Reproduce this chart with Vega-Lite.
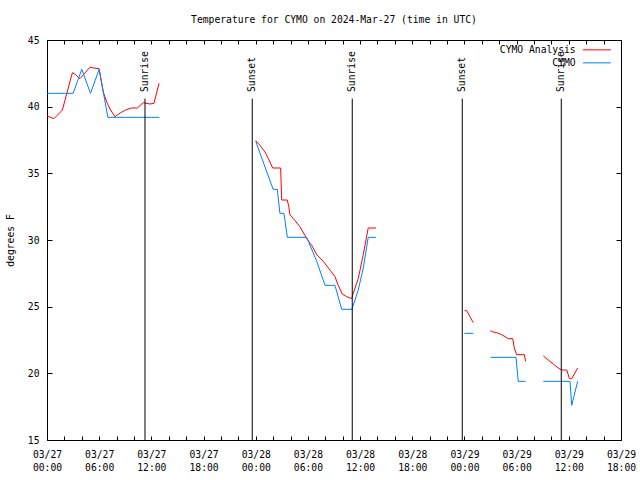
{
  "$schema": "https://vega.github.io/schema/vega-lite/v6.json",
  "width": 574,
  "height": 400,
  "autosize": {"type": "none"},
  "padding": {"left": 47, "top": 40, "right": 19, "bottom": 40},
  "background": "white",
  "config": {
    "view": {"stroke": "black", "strokeWidth": 1},
    "font": "DejaVu Sans Mono",
    "axis": {"labelFont": "DejaVu Sans Mono", "labelFontSize": 9.7, "labelColor": "black", "tickColor": "black", "titleFont": "DejaVu Sans Mono", "titleFontSize": 9.7, "titleFontWeight": "normal", "titleColor": "black", "grid": false, "domain": false}
  },
  "title": {"text": "Temperature for CYMO on 2024-Mar-27 (time in UTC)", "font": "DejaVu Sans Mono", "fontSize": 9.7, "fontWeight": "normal", "color": "black", "offset": 10},
  "datasets": {
    "obs": [
      {"t": "2024-03-27T00:00:00Z", "temp": 39.3, "s": "CYMO Analysis", "g": 1},
      {"t": "2024-03-27T00:48:00Z", "temp": 39.1, "s": "CYMO Analysis", "g": 1},
      {"t": "2024-03-27T01:46:00Z", "temp": 39.75, "s": "CYMO Analysis", "g": 1},
      {"t": "2024-03-27T02:55:00Z", "temp": 42.55, "s": "CYMO Analysis", "g": 1},
      {"t": "2024-03-27T03:18:00Z", "temp": 42.4, "s": "CYMO Analysis", "g": 1},
      {"t": "2024-03-27T03:47:00Z", "temp": 42.1, "s": "CYMO Analysis", "g": 1},
      {"t": "2024-03-27T04:15:00Z", "temp": 42.45, "s": "CYMO Analysis", "g": 1},
      {"t": "2024-03-27T04:56:00Z", "temp": 42.95, "s": "CYMO Analysis", "g": 1},
      {"t": "2024-03-27T05:24:00Z", "temp": 42.9, "s": "CYMO Analysis", "g": 1},
      {"t": "2024-03-27T05:59:00Z", "temp": 42.85, "s": "CYMO Analysis", "g": 1},
      {"t": "2024-03-27T06:28:00Z", "temp": 41.1, "s": "CYMO Analysis", "g": 1},
      {"t": "2024-03-27T06:56:00Z", "temp": 40.25, "s": "CYMO Analysis", "g": 1},
      {"t": "2024-03-27T07:19:00Z", "temp": 39.75, "s": "CYMO Analysis", "g": 1},
      {"t": "2024-03-27T07:49:00Z", "temp": 39.25, "s": "CYMO Analysis", "g": 1},
      {"t": "2024-03-27T08:28:00Z", "temp": 39.55, "s": "CYMO Analysis", "g": 1},
      {"t": "2024-03-27T09:03:00Z", "temp": 39.75, "s": "CYMO Analysis", "g": 1},
      {"t": "2024-03-27T09:41:00Z", "temp": 39.9, "s": "CYMO Analysis", "g": 1},
      {"t": "2024-03-27T10:23:00Z", "temp": 39.9, "s": "CYMO Analysis", "g": 1},
      {"t": "2024-03-27T11:04:00Z", "temp": 40.3, "s": "CYMO Analysis", "g": 1},
      {"t": "2024-03-27T11:50:00Z", "temp": 40.2, "s": "CYMO Analysis", "g": 1},
      {"t": "2024-03-27T12:18:00Z", "temp": 40.25, "s": "CYMO Analysis", "g": 1},
      {"t": "2024-03-27T12:53:00Z", "temp": 41.75, "s": "CYMO Analysis", "g": 1},

      {"t": "2024-03-27T00:00:00Z", "temp": 41.0, "s": "CYMO", "g": 1},
      {"t": "2024-03-27T01:00:00Z", "temp": 41.0, "s": "CYMO", "g": 1},
      {"t": "2024-03-27T02:00:00Z", "temp": 41.0, "s": "CYMO", "g": 1},
      {"t": "2024-03-27T03:00:00Z", "temp": 41.0, "s": "CYMO", "g": 1},
      {"t": "2024-03-27T04:00:00Z", "temp": 42.8, "s": "CYMO", "g": 1},
      {"t": "2024-03-27T05:00:00Z", "temp": 41.0, "s": "CYMO", "g": 1},
      {"t": "2024-03-27T06:00:00Z", "temp": 42.8, "s": "CYMO", "g": 1},
      {"t": "2024-03-27T07:00:00Z", "temp": 39.2, "s": "CYMO", "g": 1},
      {"t": "2024-03-27T08:00:00Z", "temp": 39.2, "s": "CYMO", "g": 1},
      {"t": "2024-03-27T09:00:00Z", "temp": 39.2, "s": "CYMO", "g": 1},
      {"t": "2024-03-27T10:00:00Z", "temp": 39.2, "s": "CYMO", "g": 1},
      {"t": "2024-03-27T11:00:00Z", "temp": 39.2, "s": "CYMO", "g": 1},
      {"t": "2024-03-27T12:00:00Z", "temp": 39.2, "s": "CYMO", "g": 1},
      {"t": "2024-03-27T12:55:00Z", "temp": 39.2, "s": "CYMO", "g": 1},

      {"t": "2024-03-28T00:00:00Z", "temp": 37.45, "s": "CYMO Analysis", "g": 2},
      {"t": "2024-03-28T00:29:00Z", "temp": 37.1, "s": "CYMO Analysis", "g": 2},
      {"t": "2024-03-28T01:04:00Z", "temp": 36.6, "s": "CYMO Analysis", "g": 2},
      {"t": "2024-03-28T01:27:00Z", "temp": 36.1, "s": "CYMO Analysis", "g": 2},
      {"t": "2024-03-28T01:57:00Z", "temp": 35.4, "s": "CYMO Analysis", "g": 2},
      {"t": "2024-03-28T02:52:00Z", "temp": 35.4, "s": "CYMO Analysis", "g": 2},
      {"t": "2024-03-28T02:59:00Z", "temp": 33.0, "s": "CYMO Analysis", "g": 2},
      {"t": "2024-03-28T03:38:00Z", "temp": 33.0, "s": "CYMO Analysis", "g": 2},
      {"t": "2024-03-28T03:48:00Z", "temp": 32.5, "s": "CYMO Analysis", "g": 2},
      {"t": "2024-03-28T03:56:00Z", "temp": 31.9, "s": "CYMO Analysis", "g": 2},
      {"t": "2024-03-28T04:31:00Z", "temp": 31.45, "s": "CYMO Analysis", "g": 2},
      {"t": "2024-03-28T05:05:00Z", "temp": 31.0, "s": "CYMO Analysis", "g": 2},
      {"t": "2024-03-28T05:52:00Z", "temp": 30.1, "s": "CYMO Analysis", "g": 2},
      {"t": "2024-03-28T06:26:00Z", "temp": 29.6, "s": "CYMO Analysis", "g": 2},
      {"t": "2024-03-28T07:01:00Z", "temp": 28.9, "s": "CYMO Analysis", "g": 2},
      {"t": "2024-03-28T07:46:00Z", "temp": 28.4, "s": "CYMO Analysis", "g": 2},
      {"t": "2024-03-28T08:32:00Z", "temp": 27.75, "s": "CYMO Analysis", "g": 2},
      {"t": "2024-03-28T09:07:00Z", "temp": 27.25, "s": "CYMO Analysis", "g": 2},
      {"t": "2024-03-28T09:29:00Z", "temp": 26.6, "s": "CYMO Analysis", "g": 2},
      {"t": "2024-03-28T09:57:00Z", "temp": 25.95, "s": "CYMO Analysis", "g": 2},
      {"t": "2024-03-28T10:28:00Z", "temp": 25.75, "s": "CYMO Analysis", "g": 2},
      {"t": "2024-03-28T11:02:00Z", "temp": 25.6, "s": "CYMO Analysis", "g": 2},
      {"t": "2024-03-28T11:13:00Z", "temp": 26.0, "s": "CYMO Analysis", "g": 2},
      {"t": "2024-03-28T11:47:00Z", "temp": 27.1, "s": "CYMO Analysis", "g": 2},
      {"t": "2024-03-28T12:22:00Z", "temp": 28.9, "s": "CYMO Analysis", "g": 2},
      {"t": "2024-03-28T12:56:00Z", "temp": 30.9, "s": "CYMO Analysis", "g": 2},
      {"t": "2024-03-28T13:50:00Z", "temp": 30.9, "s": "CYMO Analysis", "g": 2},

      {"t": "2024-03-28T00:00:00Z", "temp": 37.4, "s": "CYMO", "g": 2},
      {"t": "2024-03-28T02:00:00Z", "temp": 33.8, "s": "CYMO", "g": 2},
      {"t": "2024-03-28T02:29:00Z", "temp": 33.8, "s": "CYMO", "g": 2},
      {"t": "2024-03-28T02:47:00Z", "temp": 32.0, "s": "CYMO", "g": 2},
      {"t": "2024-03-28T03:15:00Z", "temp": 32.0, "s": "CYMO", "g": 2},
      {"t": "2024-03-28T03:38:00Z", "temp": 30.2, "s": "CYMO", "g": 2},
      {"t": "2024-03-28T05:52:00Z", "temp": 30.2, "s": "CYMO", "g": 2},
      {"t": "2024-03-28T07:01:00Z", "temp": 28.4, "s": "CYMO", "g": 2},
      {"t": "2024-03-28T07:58:00Z", "temp": 26.6, "s": "CYMO", "g": 2},
      {"t": "2024-03-28T09:07:00Z", "temp": 26.6, "s": "CYMO", "g": 2},
      {"t": "2024-03-28T09:53:00Z", "temp": 24.8, "s": "CYMO", "g": 2},
      {"t": "2024-03-28T11:02:00Z", "temp": 24.8, "s": "CYMO", "g": 2},
      {"t": "2024-03-28T11:13:00Z", "temp": 25.1, "s": "CYMO", "g": 2},
      {"t": "2024-03-28T11:47:00Z", "temp": 26.25, "s": "CYMO", "g": 2},
      {"t": "2024-03-28T12:22:00Z", "temp": 27.9, "s": "CYMO", "g": 2},
      {"t": "2024-03-28T12:56:00Z", "temp": 30.2, "s": "CYMO", "g": 2},
      {"t": "2024-03-28T13:50:00Z", "temp": 30.2, "s": "CYMO", "g": 2},

      {"t": "2024-03-29T00:00:00Z", "temp": 24.7, "s": "CYMO Analysis", "g": 3},
      {"t": "2024-03-29T00:16:00Z", "temp": 24.7, "s": "CYMO Analysis", "g": 3},
      {"t": "2024-03-29T00:38:00Z", "temp": 24.25, "s": "CYMO Analysis", "g": 3},
      {"t": "2024-03-29T01:01:00Z", "temp": 23.8, "s": "CYMO Analysis", "g": 3},
      {"t": "2024-03-29T00:00:00Z", "temp": 23.0, "s": "CYMO", "g": 3},
      {"t": "2024-03-29T01:01:00Z", "temp": 23.0, "s": "CYMO", "g": 3},

      {"t": "2024-03-29T02:58:00Z", "temp": 23.2, "s": "CYMO Analysis", "g": 4},
      {"t": "2024-03-29T03:19:00Z", "temp": 23.1, "s": "CYMO Analysis", "g": 4},
      {"t": "2024-03-29T03:43:00Z", "temp": 23.05, "s": "CYMO Analysis", "g": 4},
      {"t": "2024-03-29T04:17:00Z", "temp": 22.9, "s": "CYMO Analysis", "g": 4},
      {"t": "2024-03-29T04:40:00Z", "temp": 22.75, "s": "CYMO Analysis", "g": 4},
      {"t": "2024-03-29T05:02:00Z", "temp": 22.6, "s": "CYMO Analysis", "g": 4},
      {"t": "2024-03-29T05:33:00Z", "temp": 22.6, "s": "CYMO Analysis", "g": 4},
      {"t": "2024-03-29T05:44:00Z", "temp": 21.9, "s": "CYMO Analysis", "g": 4},
      {"t": "2024-03-29T06:00:00Z", "temp": 21.4, "s": "CYMO Analysis", "g": 4},
      {"t": "2024-03-29T06:53:00Z", "temp": 21.4, "s": "CYMO Analysis", "g": 4},
      {"t": "2024-03-29T07:02:00Z", "temp": 20.9, "s": "CYMO Analysis", "g": 4},
      {"t": "2024-03-29T03:00:00Z", "temp": 21.2, "s": "CYMO", "g": 4},
      {"t": "2024-03-29T05:56:00Z", "temp": 21.2, "s": "CYMO", "g": 4},
      {"t": "2024-03-29T06:11:00Z", "temp": 19.4, "s": "CYMO", "g": 4},
      {"t": "2024-03-29T07:02:00Z", "temp": 19.4, "s": "CYMO", "g": 4},

      {"t": "2024-03-29T09:04:00Z", "temp": 21.3, "s": "CYMO Analysis", "g": 5},
      {"t": "2024-03-29T09:38:00Z", "temp": 21.0, "s": "CYMO Analysis", "g": 5},
      {"t": "2024-03-29T10:13:00Z", "temp": 20.7, "s": "CYMO Analysis", "g": 5},
      {"t": "2024-03-29T10:47:00Z", "temp": 20.4, "s": "CYMO Analysis", "g": 5},
      {"t": "2024-03-29T11:11:00Z", "temp": 20.25, "s": "CYMO Analysis", "g": 5},
      {"t": "2024-03-29T11:46:00Z", "temp": 20.25, "s": "CYMO Analysis", "g": 5},
      {"t": "2024-03-29T12:04:00Z", "temp": 19.6, "s": "CYMO Analysis", "g": 5},
      {"t": "2024-03-29T12:20:00Z", "temp": 19.6, "s": "CYMO Analysis", "g": 5},
      {"t": "2024-03-29T13:01:00Z", "temp": 20.4, "s": "CYMO Analysis", "g": 5},
      {"t": "2024-03-29T09:04:00Z", "temp": 19.4, "s": "CYMO", "g": 5},
      {"t": "2024-03-29T12:08:00Z", "temp": 19.4, "s": "CYMO", "g": 5},
      {"t": "2024-03-29T12:20:00Z", "temp": 17.6, "s": "CYMO", "g": 5},
      {"t": "2024-03-29T13:01:00Z", "temp": 19.4, "s": "CYMO", "g": 5}
    ],
    "events": [
      {"t": "2024-03-27T11:16:00Z", "label": "Sunrise"},
      {"t": "2024-03-27T23:36:00Z", "label": "Sunset"},
      {"t": "2024-03-28T11:06:00Z", "label": "Sunrise"},
      {"t": "2024-03-28T23:45:00Z", "label": "Sunset"},
      {"t": "2024-03-29T11:08:00Z", "label": "Sunrise"}
    ]
  },
  "resolve": {"axis": {"x": "independent", "y": "independent"}},
  "layer": [
    {
      "data": {"name": "obs"},
      "mark": {"type": "line", "strokeWidth": 1, "interpolate": "linear"},
      "encoding": {
        "x": {"field": "t", "type": "temporal",
          "scale": {"type": "utc", "domain": [1711497600000, 1711735200000]},
          "axis": {"orient": "bottom", "title": null,
            "values": [1711497600000, 1711504800000, 1711512000000, 1711519200000, 1711526400000, 1711533600000, 1711540800000, 1711548000000, 1711555200000, 1711562400000, 1711569600000, 1711576800000, 1711584000000, 1711591200000, 1711598400000, 1711605600000, 1711612800000, 1711620000000, 1711627200000, 1711634400000, 1711641600000, 1711648800000, 1711656000000, 1711663200000, 1711670400000, 1711677600000, 1711684800000, 1711692000000, 1711699200000, 1711706400000, 1711713600000, 1711720800000, 1711728000000, 1711735200000],
            "labelExpr": "utchours(datum.value) % 6 == 0 ? [utcFormat(datum.value, '%m/%d'), utcFormat(datum.value, '%H:%M')] : ''",
            "labelOverlap": false, "labelFlush": false, "labelBound": false, "labelAngle": 0, "labelAlign": "center", "labelBaseline": "top",
            "labelLineHeight": 13, "tickSize": -4, "labelPadding": 13}},
        "y": {"field": "temp", "type": "quantitative",
          "scale": {"domain": [15, 45], "nice": false, "zero": false},
          "axis": {"orient": "left", "title": "degrees F", "values": [15, 20, 25, 30, 35, 40, 45], "tickSize": -5, "labelPadding": 13, "titlePadding": 12}},
        "color": {"field": "s", "type": "nominal",
          "scale": {"domain": ["CYMO Analysis", "CYMO"], "range": ["#ff0000", "#0080ff"]},
          "legend": {"orient": "none", "legendX": 531, "legendY": 5, "title": null, "symbolType": "M0,0H7", "symbolSize": 64, "symbolStrokeWidth": 1,
            "labelAlign": "right", "labelOffset": -12, "labelFont": "DejaVu Sans Mono", "labelFontSize": 9.7, "labelColor": "black", "labelLimit": 300, "padding": 0, "rowPadding": 2}},
        "detail": {"field": "g", "type": "nominal"}
      }
    },
    {
      "data": {"name": "events"},
      "mark": {"type": "rule", "color": "black", "strokeWidth": 1},
      "encoding": {
        "x": {"field": "t", "type": "temporal",
          "axis": {"orient": "top", "title": null, "labels": false, "tickSize": -4,
            "values": [1711497600000, 1711504800000, 1711512000000, 1711519200000, 1711526400000, 1711533600000, 1711540800000, 1711548000000, 1711555200000, 1711562400000, 1711569600000, 1711576800000, 1711584000000, 1711591200000, 1711598400000, 1711605600000, 1711612800000, 1711620000000, 1711627200000, 1711634400000, 1711641600000, 1711648800000, 1711656000000, 1711663200000, 1711670400000, 1711677600000, 1711684800000, 1711692000000, 1711699200000, 1711706400000, 1711713600000, 1711720800000, 1711728000000, 1711735200000]}},
        "y": {"datum": 15, "type": "quantitative",
          "axis": {"orient": "right", "title": null, "labels": false, "values": [15, 20, 25, 30, 35, 40, 45], "tickSize": -5}},
        "y2": {"datum": 40.6}
      }
    },
    {
      "data": {"name": "events"},
      "mark": {"type": "text", "angle": 270, "align": "left", "baseline": "middle", "font": "DejaVu Sans Mono", "fontSize": 9.7, "color": "black"},
      "encoding": {
        "x": {"field": "t", "type": "temporal", "axis": null},
        "y": {"datum": 41.1, "type": "quantitative", "axis": null},
        "text": {"field": "label"}
      }
    }
  ]
}
